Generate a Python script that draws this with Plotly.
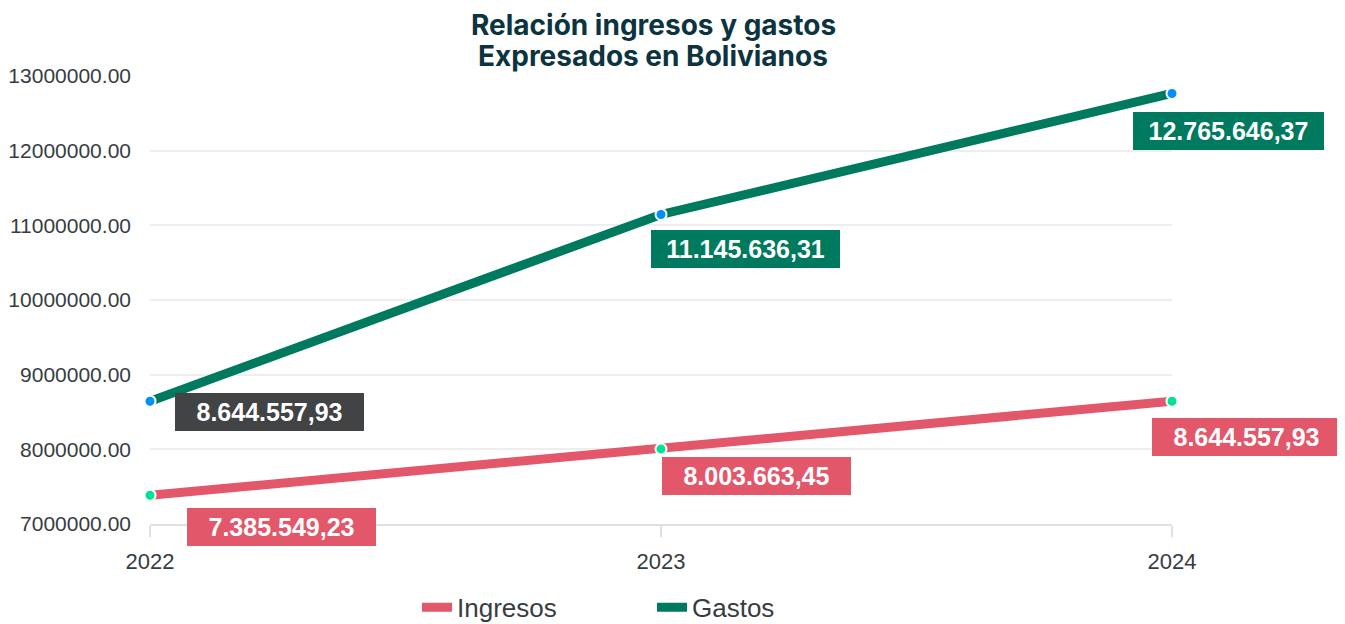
import plotly.graph_objects as go

# ---- data ----
years = ["2022", "2023", "2024"]
ingresos = [7385549.23, 8003663.45, 8644557.93]
gastos = [8644557.93, 11145636.31, 12765646.37]
y_ticks = [7000000, 8000000, 9000000, 10000000, 11000000, 12000000, 13000000]

title_line1 = "Relación ingresos y gastos"
title_line2 = "Expresados en Bolivianos"

# ---- styles ----
RED = "#E25769"
GREEN = "#007A5E"
DARK = "#414345"
TITLE_COLOR = "#0B3440"
TICK_COLOR = "#373D3F"

# page body has an 8px margin, so the figure is a bit smaller
W, H = 1337, 616
ML, MR, MT, MB = 142, 173, 68, 100
FONT = "Liberation Sans, Arial, sans-serif"


def fmt_bo(v):
    s = f"{v:,.2f}"
    return s.replace(",", "X").replace(".", ",").replace("X", ".")


fig = go.Figure()
for name, vals, lc in (("Ingresos", ingresos, RED), ("Gastos", gastos, GREEN)):
    fig.add_trace(go.Scatter(
        x=years, y=vals, name=name, mode="lines",
        line=dict(color=lc, width=9), cliponaxis=False, legendgroup=name,
    ))
for name, vals, mc in (("Ingresos", ingresos, "#00E396"), ("Gastos", gastos, "#008FFB")):
    fig.add_trace(go.Scatter(
        x=years, y=vals, name=name, mode="markers", showlegend=False,
        marker=dict(color=mc, size=11, line=dict(color="white", width=2)),
        cliponaxis=False, legendgroup=name,
    ))

# data label boxes (offsets in px relative to each point)
ing_shift = [(37, -13), (1, -8), (-20, -17)]
gas_shift = [(25, 8), (-10, -16), (-39, -18)]
gas_bg = [DARK, GREEN, GREEN]

annotations = []
for i, yr in enumerate(years):
    annotations.append(dict(
        x=i, y=ingresos[i], xref="x", yref="y",
        text="<b>" + fmt_bo(ingresos[i]) + "</b>", showarrow=False,
        xanchor="left", yanchor="top",
        xshift=ing_shift[i][0], yshift=ing_shift[i][1],
        bgcolor=RED, width=187, height=36, borderpad=1, borderwidth=0,
        font=dict(family=FONT, size=25, color="white"),
    ))
    annotations.append(dict(
        x=i, y=gastos[i], xref="x", yref="y",
        text="<b>" + fmt_bo(gastos[i]) + "</b>", showarrow=False,
        xanchor="left", yanchor="top",
        xshift=gas_shift[i][0], yshift=gas_shift[i][1],
        bgcolor=gas_bg[i], width=187 if i < 2 else 189, height=36,
        borderpad=1, borderwidth=0,
        font=dict(family=FONT, size=25, color="white"),
    ))

plot_w = W - ML - MR
title_x = (653 - 8 - ML) / plot_w
for txt, ys in ((title_line1, 51), (title_line2, 20)):
    annotations.append(dict(
        x=title_x, y=1, xref="paper", yref="paper", xanchor="center", yanchor="middle",
        yshift=ys, text="<b>" + txt + "</b>", showarrow=False,
        font=dict(family="Inter, Roboto, sans-serif", size=28, color=TITLE_COLOR),
    ))

fig.update_layout(
    width=W, height=H,
    margin=dict(l=ML, r=MR, t=MT, b=MB, autoexpand=False),
    plot_bgcolor="white", paper_bgcolor="white",
    showlegend=True,
    annotations=annotations,
    legend=dict(
        orientation="h", x=(417 - 8 - ML) / plot_w, xanchor="left",
        y=-0.186, yanchor="middle",
        font=dict(family=FONT, size=26, color=TICK_COLOR),
        entrywidth=190,
    ),
    xaxis=dict(
        type="category", range=[0, 2],
        showgrid=False, showline=True, linecolor="#E0E0E0", linewidth=2,
        ticks="outside", ticklen=11, tickcolor="#E0E0E0", tickwidth=2,
        tickfont=dict(family=FONT, size=22, color=TICK_COLOR),
        ticklabelstandoff=6, zeroline=False,
    ),
    yaxis=dict(
        range=[7000000, 13000000], tickvals=y_ticks, tickformat=".2f",
        showgrid=True, gridcolor="#EEEEEE", gridwidth=1.5,
        showline=False, zeroline=False, ticks="",
        tickfont=dict(family=FONT, size=21, color=TICK_COLOR),
        ticklabelstandoff=18,
    ),
)

fig.write_html("out.html")
